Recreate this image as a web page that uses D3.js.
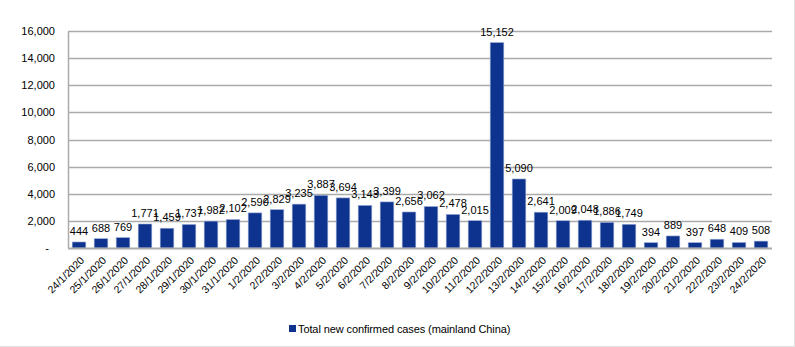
<!DOCTYPE html>
<html>
<head>
<meta charset="utf-8">
<script src="https://cdn.jsdelivr.net/npm/d3@7"></script>
<style>
  html, body { margin: 0; padding: 0; background: #fff; }
  svg { display: block; font-family: "Liberation Sans", Arial, sans-serif; }
</style>
</head>
<body>
<svg id="chart" width="795" height="347"></svg>
<script>
const dates = ["24/1/2020","25/1/2020","26/1/2020","27/1/2020","28/1/2020","29/1/2020","30/1/2020","31/1/2020",
  "1/2/2020","2/2/2020","3/2/2020","4/2/2020","5/2/2020","6/2/2020","7/2/2020","8/2/2020","9/2/2020",
  "10/2/2020","11/2/2020","12/2/2020","13/2/2020","14/2/2020","15/2/2020","16/2/2020","17/2/2020",
  "18/2/2020","19/2/2020","20/2/2020","21/2/2020","22/2/2020","23/2/2020","24/2/2020"];
const newCases = [444,688,769,1771,1459,1737,1982,2102,2590,2829,3235,3887,3694,3143,3399,2656,3062,
  2478,2015,15152,5090,2641,2009,2048,1886,1749,394,889,397,648,409,508];
const yTicks = [0,2000,4000,6000,8000,10000,12000,14000,16000];
const seriesName = "Total new confirmed cases (mainland China)";

const svg = d3.select("#chart");
const mL = 68, mR = 772, mT = 31, mB = 248;

const x = d3.scaleBand().domain(dates).range([mL, mR]).paddingInner(0.38).paddingOuter(0.19);
const y = d3.scaleLinear().domain([0, 16000]).range([mB, mT]);
const fmt = d3.format(",");

// outer border (right / bottom visible)
svg.append("line").attr("x1", 794.5).attr("x2", 794.5).attr("y1", 0).attr("y2", 347).attr("stroke", "#e2e2e2");
svg.append("line").attr("x1", 0).attr("x2", 795).attr("y1", 346.5).attr("y2", 346.5).attr("stroke", "#e2e2e2");

// gridlines
svg.append("g").selectAll("line").data(yTicks.filter(d => d > 0)).join("line")
  .attr("x1", mL).attr("x2", mR)
  .attr("y1", d => Math.round(y(d)) + 0.5).attr("y2", d => Math.round(y(d)) + 0.5)
  .attr("stroke", "#ababab").attr("stroke-width", 1.5);

// y axis via d3 axis
const yAxis = d3.axisLeft(y).tickValues(yTicks).tickSize(0).tickPadding(13)
  .tickFormat(d => d === 0 ? "-" : fmt(d));
const gy = svg.append("g").attr("transform", `translate(${mL},0)`).call(yAxis);
gy.select(".domain").attr("stroke", "#ababab").attr("stroke-width", 1.5);
gy.selectAll("text").attr("font-size", 11).attr("fill", "#000")
  .attr("font-family", "Liberation Sans, Arial, sans-serif");
gy.selectAll(".tick").filter(d => d === 0).select("text").attr("dx", -6);

// bars
svg.append("g").selectAll("rect").data(newCases).join("rect")
  .attr("x", (d, i) => x(dates[i]))
  .attr("y", d => y(d))
  .attr("width", x.bandwidth())
  .attr("height", d => mB - y(d))
  .attr("fill", "#0e338f")
  .attr("stroke", "#9fb0d8").attr("stroke-width", 0.6);

// x axis
const xAxis = d3.axisBottom(x).tickSize(0).tickPadding(0);
const gx = svg.append("g").attr("transform", `translate(0,${mB})`).call(xAxis);
gx.select(".domain").attr("stroke", "#ababab").attr("stroke-width", 2).attr("d", `M${mL},0.5H${mR}`);
gx.selectAll("text")
  .attr("font-size", 10.5).attr("fill", "#000")
  .attr("font-family", "Liberation Sans, Arial, sans-serif")
  .attr("text-anchor", "end")
  .attr("dy", 0)
  .attr("transform", "translate(6,13) rotate(-45)");

// data labels
svg.append("g").selectAll("text").data(newCases).join("text")
  .attr("x", (d, i) => x(dates[i]) + x.bandwidth() / 2)
  .attr("y", d => y(d) - 7)
  .attr("text-anchor", "middle")
  .attr("font-size", 11)
  .attr("fill", "#000")
  .text(d => fmt(d));

// legend
const lg = svg.append("g").attr("transform", "translate(289,325)");
lg.append("rect").attr("width", 7).attr("height", 7).attr("fill", "#0e338f");
lg.append("text").attr("x", 9).attr("y", 7.5).attr("font-size", 11).attr("fill", "#000")
  .attr("letter-spacing", -0.1).text(seriesName);
</script>
</body>
</html>
